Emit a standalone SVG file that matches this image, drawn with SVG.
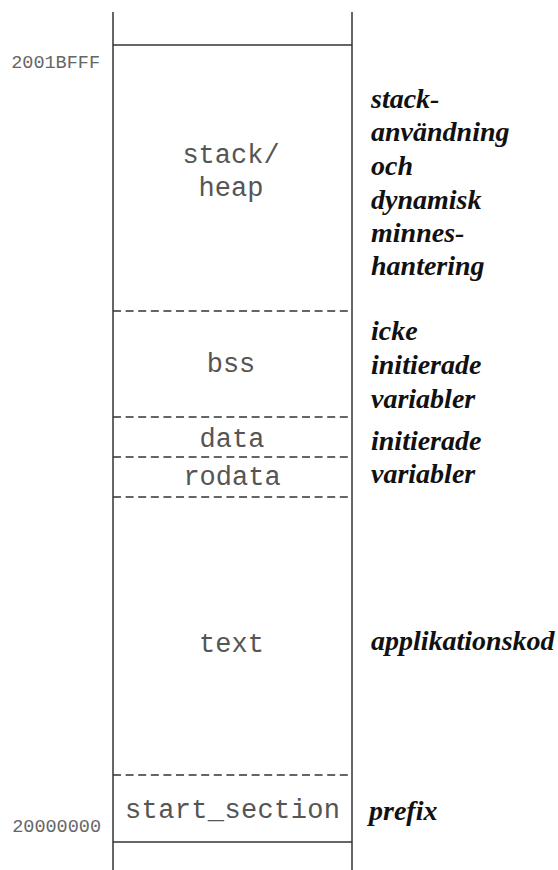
<svg xmlns="http://www.w3.org/2000/svg" width="558" height="870" viewBox="0 0 558 870">
  <style>
    .frame { stroke: #333; stroke-width: 1.5; fill: none; }
    .sep { stroke: #333; stroke-width: 1.3; stroke-dasharray: 8 4.6; fill: none; }
    .sec { font-family: "Liberation Mono", "Courier New", monospace; font-size: 27px; fill: #555; text-anchor: middle; }
    .addr { font-family: "Liberation Mono", "Courier New", monospace; font-size: 18.5px; fill: #666; text-anchor: end; }
    .note { font-family: "Liberation Serif", "Times New Roman", serif; font-size: 28px; font-weight: bold; font-style: italic; fill: #111; }
  </style>
  <rect width="558" height="870" fill="#fff"/>

  <!-- memory column outline and section boundaries -->
  <g id="connectors">
    <line class="frame" x1="113" y1="12" x2="113" y2="870"/>
    <line class="frame" x1="352" y1="12" x2="352" y2="870"/>
    <line class="frame" x1="113" y1="45" x2="352" y2="45"/>
    <line class="frame" x1="113" y1="842" x2="352" y2="842"/>
    <line class="sep" x1="113" y1="311" x2="352" y2="311"/>
    <line class="sep" x1="113" y1="417" x2="352" y2="417"/>
    <line class="sep" x1="113" y1="457" x2="352" y2="457"/>
    <line class="sep" x1="113" y1="497" x2="352" y2="497"/>
    <line class="sep" x1="113" y1="775" x2="352" y2="775"/>
  </g>

  <!-- address labels -->
  <g id="addr-top"><text class="addr" x="100" y="68">2001BFFF</text></g>
  <g id="addr-bottom"><text class="addr" x="101" y="832">20000000</text></g>

  <!-- sections -->
  <g id="stack-heap">
    <text class="sec" x="231" y="163">stack/</text>
    <text class="sec" x="231" y="196">heap</text>
  </g>
  <g id="bss"><text class="sec" x="231" y="372">bss</text></g>
  <g id="data"><text class="sec" x="232" y="447">data</text></g>
  <g id="rodata"><text class="sec" x="232" y="485">rodata</text></g>
  <g id="text"><text class="sec" x="231.5" y="652">text</text></g>
  <g id="start-section"><text class="sec" x="232.5" y="818" textLength="215" lengthAdjust="spacing">start_section</text></g>

  <!-- descriptions -->
  <g id="desc-stack">
    <text class="note" x="371" y="108">stack-</text>
    <text class="note" x="371" y="141">användning</text>
    <text class="note" x="371" y="175">och</text>
    <text class="note" x="371" y="209">dynamisk</text>
    <text class="note" x="371" y="242">minnes-</text>
    <text class="note" x="371" y="275">hantering</text>
  </g>
  <g id="desc-bss">
    <text class="note" x="371" y="340">icke</text>
    <text class="note" x="371" y="374">initierade</text>
    <text class="note" x="371" y="408">variabler</text>
  </g>
  <g id="desc-data">
    <text class="note" x="371" y="450">initierade</text>
    <text class="note" x="371" y="483">variabler</text>
  </g>
  <g id="desc-text"><text class="note" x="371" y="650">applikationskod</text></g>
  <g id="desc-prefix"><text class="note" x="369" y="820">prefix</text></g>
</svg>
